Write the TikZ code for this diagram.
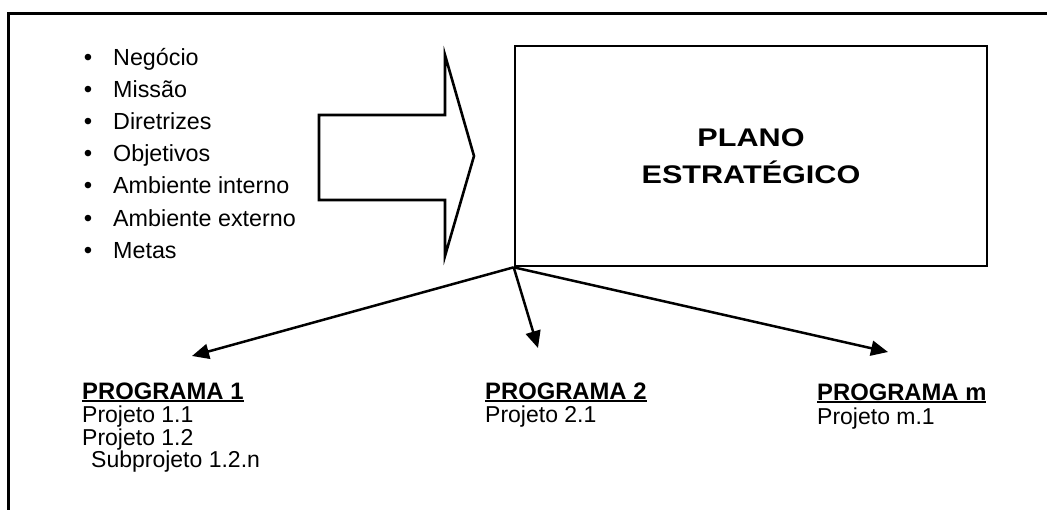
\documentclass[tikz,border=0pt]{standalone}
\usepackage{fontspec}
\setmainfont{Liberation Sans}
\usetikzlibrary{arrows.meta}
% underline drawn as a rule a little below the baseline
\newcommand\progline[1]{\setbox0\hbox{#1}\rlap{\rule[-3.2pt]{\wd0}{1.8pt}}\box0}
\begin{document}
\begin{tikzpicture}[x=1pt,y=-1pt,
  thick line/.style={line width=2.6pt},
  item/.style={anchor=base west,inner sep=0pt,font=\fontsize{23.3}{27}\selectfont},
  dot/.style={anchor=base,inner sep=0pt,font=\fontsize{24}{27}\selectfont},
  prog/.style={anchor=base west,inner sep=0pt,font=\fontsize{23}{26}\selectfont},
  progtitle/.style={prog,font=\bfseries\fontsize{23.8}{26}\selectfont},
  link/.style={line width=2.5pt,-{Triangle[length=17pt,width=15pt]}},
  line join=miter]
\useasboundingbox (0,0) rectangle (1047,509);

% outer frame (top and left edges)
\draw[line width=3pt] (8,520) -- (8,13) -- (1060,13);

% list of inputs
\foreach \txt [count=\i] in {Negócio,Missão,Diretrizes,Objetivos,Ambiente interno,Ambiente externo,Metas}{
  \pgfmathsetmacro\yb{65+32.2*(\i-1)}
  \node[dot] (b\i) at (88,\yb) {•};
  \node[item] (t\i) at (113,\yb) {\txt};
}

% block arrow into the plan
\draw[thick line] (319,115) -- (445,115) -- (445,55) -- (474,156) -- (445,256)
  -- (445,200) -- (319,200) -- cycle;

% strategic plan box
\node[draw,thick line,minimum width=472pt,minimum height=220pt,inner sep=0pt,
  align=center,font=\bfseries\fontsize{25.5}{37}\selectfont] (plano) at (751,156)
  {\scalebox{1.2}[1]{PLANO}\\\scalebox{1.2}[1]{ESTRATÉGICO}};

% arrow ends
\coordinate (e1) at (192,356);
\coordinate (e2) at (538,348);
\coordinate (e3) at (888,352);
\draw[link] (plano.south west) -- (e1);
\draw[link] (plano.south west) -- (e2);
\draw[link] (plano.south west) -- (e3);

% programmes and projects
\node[progtitle] (p1) at (82,399) {\progline{PROGRAMA 1}};
\node[prog] (p11) at (82,422) {Projeto 1.1};
\node[prog] (p12) at (82,445) {Projeto 1.2};
\node[prog] (p12n) at (91,467) {Subprojeto 1.2.n};

\node[progtitle] (p2) at (485,399) {\progline{PROGRAMA 2}};
\node[prog] (p21) at (485,422) {Projeto 2.1};

\node[progtitle] (pm) at (817,400) {\progline{PROGRAMA m}};
\node[prog] (pm1) at (817,424) {Projeto m.1};
\end{tikzpicture}
\end{document}
